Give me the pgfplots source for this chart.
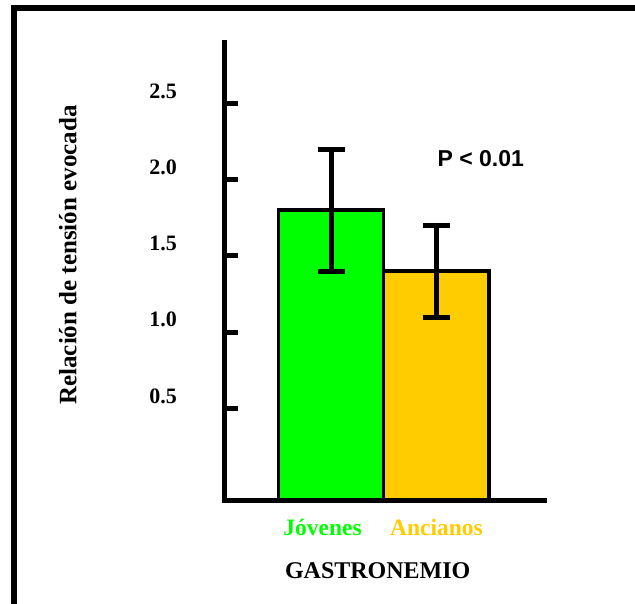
\documentclass[border=0pt]{standalone}
\usepackage{pgfplots}
\pgfplotsset{compat=1.18}
\usepackage{fontspec}
\setmainfont{Liberation Serif}
\newfontfamily\arialfont{Liberation Sans}
\definecolor{jgreen}{HTML}{00FF00}
\definecolor{ayellow}{HTML}{FFCC00}
\begin{document}
\begin{tikzpicture}[x=1pt,y=1pt]
\useasboundingbox (0,0) rectangle (635,603);
\draw[line width=5.5pt] (14,-10) -- (14,595) -- (645,595);
\begin{axis}[
  at={(224.5pt,103pt)}, anchor=south west,
  scale only axis, width=319.5pt, height=457.5pt,
  xmin=-1.01, xmax=2.02, ymin=-0.1, ymax=2.9,
  axis x line*=bottom, axis y line*=left,
  axis line style={-, line width=5pt, black, line cap=rect},
  tick align=inside,
  ytick={0.5,1,1.5,2,2.5},
  yticklabels={0.5,1.0,1.5,2.0,2.5},
  major tick length=13pt,
  y tick style={line width=5pt, black},
  yticklabel style={font=\fontsize{22}{26}\selectfont\bfseries, anchor=east, inner sep=0pt, xshift=-47.5pt, yshift=12.5pt},
  xtick={-0.08,1},
  xticklabels={\textcolor{jgreen}{Jóvenes},\textcolor{ayellow}{Ancianos}},
  x tick style={draw=none},
  xticklabel style={font=\fontsize{23.5}{28}\selectfont\bfseries, anchor=north, inner sep=0pt, yshift=-19pt},
  xlabel={GASTRONEMIO},
  xlabel style={font=\fontsize{24}{28}\selectfont\bfseries, at={(axis description cs:0.4795,-0.1535)}, anchor=center},
  ylabel={Relación de tensión evocada},
  ylabel style={font=\fontsize{25}{30}\selectfont\bfseries, at={(axis description cs:-0.4905,0.5355)}, anchor=center, rotate=0},
  clip=false,
]
\addplot[fill=jgreen, draw=black, line width=3.5pt] coordinates {(-0.5,-0.1) (-0.5,1.8) (0.5,1.8) (0.5,-0.1)} -- cycle;
\addplot[fill=ayellow, draw=black, line width=3.5pt] coordinates {(0.5,-0.1) (0.5,1.4) (1.5,1.4) (1.5,-0.1)} -- cycle;
\draw[line width=5pt, black, line cap=rect] (axis cs:-1.01,-0.1) -- (axis cs:2.02,-0.1);
\addplot[draw=none, mark=none, error bars/.cd, y dir=both, y explicit,
  error bar style={line width=5pt, black},
  error mark options={rotate=90, mark size=13.5pt, line width=5pt, black}]
  coordinates {(0,1.8) +- (0,0.4) (1,1.4) +- (0,0.3)};
\node[font=\arialfont\fontsize{23}{28}\selectfont\bfseries, anchor=center] at (axis cs:1.42,2.14) {P < 0.01};
\end{axis}
\end{tikzpicture}
\end{document}
